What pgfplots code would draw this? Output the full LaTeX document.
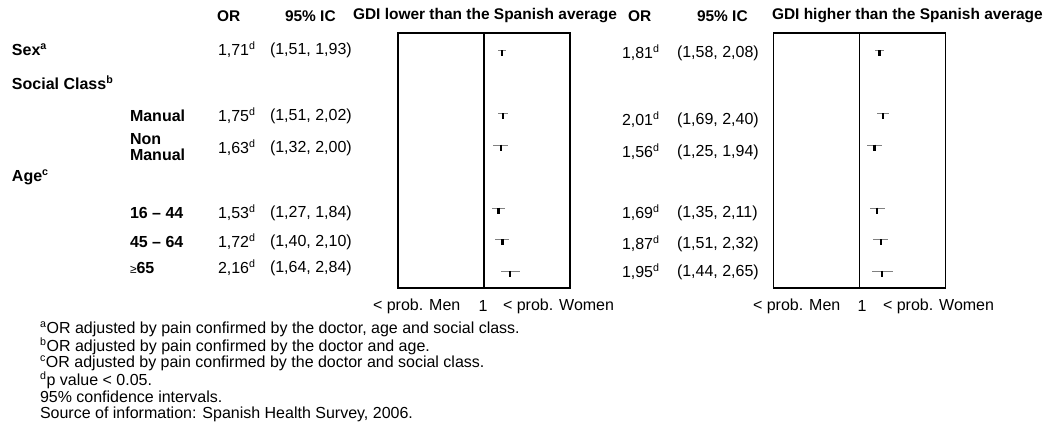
\documentclass[border=0pt]{standalone}
\usepackage{pgfplots}
\pgfplotsset{compat=1.18}
\usepackage{pgfplotstable}
\usepackage{fontspec}
\setmainfont{Liberation Sans}

% OR, row, CI upper - OR, OR - CI lower
\pgfplotstableread{
or   row ep   em
1.71 1   0.22 0.20
1.75 3   0.27 0.24
1.63 4   0.37 0.31
1.53 6   0.31 0.26
1.72 7   0.38 0.32
2.16 8   0.68 0.52
}\lowerdata

\pgfplotstableread{
or   row ep   em
1.81 1   0.27 0.23
2.01 3   0.39 0.32
1.56 4   0.38 0.31
1.69 6   0.42 0.34
1.87 7   0.45 0.36
1.95 8   0.70 0.51
}\higherdata

\begin{document}
\begin{tikzpicture}[x=0.75pt,y=-0.75pt,
  every node/.style={inner sep=0pt, outer sep=0pt, font=\fontsize{12}{11.5}\selectfont},
  hdr/.style={anchor=west, font=\fontsize{11.6}{12}\selectfont\bfseries}]
\path (0,0) rectangle (1050,439);

\begin{axis}[at={(298.5pt,-216pt)}, anchor=south west,
  scale only axis, width=129pt, height=191.25pt,
  xmode=log, xmin=0.08, xmax=12.5,
  ymin=0.44, ymax=8.53, y dir=reverse,
  xtick=\empty, ytick=\empty, axis line style={line width=0.9pt}, clip=false]
\addplot[only marks, mark=|, mark size=2.2pt,
  mark options={line width=1.6pt, black, yshift=-1.8pt},
  error bars/.cd, x dir=both, x explicit, error mark=none,
  error bar style={line width=0.9pt, gray}]
  table[x=or, y=row, x error plus=ep, x error minus=em] \lowerdata;
\draw[line width=0.9pt] (axis cs:1,0.44) -- (axis cs:1,8.53);
\end{axis}

\begin{axis}[at={(580pt,-216pt)}, anchor=south west,
  scale only axis, width=129pt, height=191.25pt,
  xmode=log, xmin=0.08, xmax=12.5,
  ymin=0.44, ymax=8.53, y dir=reverse,
  xtick=\empty, ytick=\empty, axis line style={line width=0.9pt}, clip=false]
\addplot[only marks, mark=|, mark size=2.2pt,
  mark options={line width=1.6pt, black, yshift=-1.8pt},
  error bars/.cd, x dir=both, x explicit, error mark=none,
  error bar style={line width=0.9pt, gray}]
  table[x=or, y=row, x error plus=ep, x error minus=em] \higherdata;
\draw[line width=0.9pt] (axis cs:1,0.44) -- (axis cs:1,8.53);
\end{axis}

% headers
\node[hdr] at (217,16) {OR};
\node[hdr] at (285,16) {95\% IC};
\node[hdr] at (353,16) {GDI lower than the Spanish average};
\node[hdr] at (628,16) {OR};
\node[hdr] at (697,16) {95\% IC};
\node[hdr] at (772,16) {GDI higher than the Spanish average};

% row labels
\node[anchor=west] at (12,50) {\bfseries Sex\textsuperscript{a}};
\node[anchor=west] at (12,83) {\bfseries Social Class\textsuperscript{b}};
\node[anchor=west] at (12,177) {\bfseries Age\textsuperscript{c}};
\node[anchor=west] at (130,116) {\bfseries Manual};
\node[anchor=west, align=left] at (130,147) {\bfseries Non\\\bfseries Manual};
\node[anchor=west] at (130,213) {\bfseries 16 – 44};
\node[anchor=west] at (130,242) {\bfseries 45 – 64};
\node[anchor=west] at (130,268) {{\fontsize{9}{9}\selectfont ≥}\bfseries 65};

% lower group values
\node[anchor=west] at (218,50)  {1,71\textsuperscript{d}};
\node[anchor=west] at (218,116) {1,75\textsuperscript{d}};
\node[anchor=west] at (218,148) {1,63\textsuperscript{d}};
\node[anchor=west] at (218,213) {1,53\textsuperscript{d}};
\node[anchor=west] at (218,242) {1,72\textsuperscript{d}};
\node[anchor=west] at (218,268) {2,16\textsuperscript{d}};
\node[anchor=west] at (270,50)  {(1,51, 1,93)};
\node[anchor=west] at (270,116) {(1,51, 2,02)};
\node[anchor=west] at (270,148) {(1,32, 2,00)};
\node[anchor=west] at (270,213) {(1,27, 1,84)};
\node[anchor=west] at (270,242) {(1,40, 2,10)};
\node[anchor=west] at (270,268) {(1,64, 2,84)};

% higher group values
\node[anchor=west] at (622,53)  {1,81\textsuperscript{d}};
\node[anchor=west] at (622,120) {2,01\textsuperscript{d}};
\node[anchor=west] at (622,152) {1,56\textsuperscript{d}};
\node[anchor=west] at (622,213) {1,69\textsuperscript{d}};
\node[anchor=west] at (622,244) {1,87\textsuperscript{d}};
\node[anchor=west] at (622,272) {1,95\textsuperscript{d}};
\node[anchor=west] at (677,53)  {(1,58, 2,08)};
\node[anchor=west] at (677,120) {(1,69, 2,40)};
\node[anchor=west] at (677,152) {(1,25, 1,94)};
\node[anchor=west] at (677,213) {(1,35, 2,11)};
\node[anchor=west] at (677,244) {(1,51, 2,32)};
\node[anchor=west] at (677,272) {(1,44, 2,65)};

% bottom axis labels
\node[anchor=west] at (373,306) {< prob. Men};
\node at (483,306) {1};
\node[anchor=west] at (503,306) {< prob. Women};
\node[anchor=west] at (753,306) {< prob. Men};
\node at (862,306) {1};
\node[anchor=west] at (883,306) {< prob. Women};

% footnotes
\node[anchor=west] at (40,329) {\textsuperscript{a}OR adjusted by pain confirmed by the doctor, age and social class.};
\node[anchor=west] at (40,346) {\textsuperscript{b}OR adjusted by pain confirmed by the doctor and age.};
\node[anchor=west] at (40,363) {\textsuperscript{c}OR adjusted by pain confirmed by the doctor and social class.};
\node[anchor=west] at (40,380) {\textsuperscript{d}p value < 0.05.};
\node[anchor=west] at (40,397) {95\% confidence intervals.};
\node[anchor=west] at (40,414) {Source of information: Spanish Health Survey, 2006.};
\end{tikzpicture}
\end{document}
